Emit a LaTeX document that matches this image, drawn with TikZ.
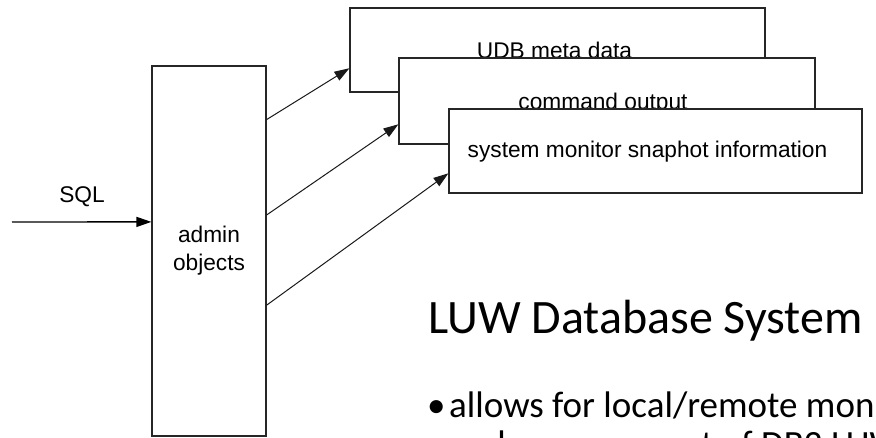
\documentclass[tikz,border=0pt]{standalone}
\usepackage{fontspec}
\setmainfont{Liberation Sans}
\newfontfamily\calibri{Carlito}
\usetikzlibrary{arrows.meta,calc}
\tikzset{
  boxnode/.style={draw=black!85, line width=1.2pt, fill=white, rectangle, inner sep=0pt},
  lbl/.style={font=\fontsize{22.7}{28}\selectfont, inner sep=0pt, text=black},
  conn/.style={draw=black!90, line width=1pt, -{Triangle[length=15pt,width=10pt]}},
  slide/.style={anchor=base west, inner sep=0pt, font=\calibri\fontsize{37}{40}\selectfont},
}
\begin{document}
\begin{tikzpicture}[x=1pt,y=-1pt]
\useasboundingbox (0,0) rectangle (876,437);
\clip (0,0) rectangle (876,437);
% stacked output boxes
\node[boxnode, minimum width=415pt, minimum height=84pt] (b1) at (557.5,50) {};
\node[lbl, anchor=base] (t1) at (554.5,58) {UDB meta data};
\node[boxnode, minimum width=416pt, minimum height=86pt] (b2) at (607,101) {};
\node[lbl, anchor=base] (t2) at (603,109) {command output};
\node[boxnode, minimum width=413pt, minimum height=84pt] (b3) at (655.5,151) {};
\node[lbl, anchor=base] (t3) at (647.5,157) {system monitor snaphot information};
% admin objects
\node[boxnode, minimum width=114pt, minimum height=370pt, lbl, draw=black!85, line width=1.2pt, align=center] (adm) at (209,251) {admin\\objects};
% SQL input
\coordinate (sqlin) at (12,222);
\node[lbl] (sql) at (82,197) {SQL};
\draw[conn, line width=1.4pt, draw=black] (sqlin) -- ($(adm.north west)!0.4216!(adm.south west)$);
% arrows to boxes
\draw[conn] ($(adm.north east)!0.146!(adm.south east)$) -- ($(b1.north west)!0.714!(b1.south west)$);
\draw[conn] ($(adm.north east)!0.403!(adm.south east)$) -- ($(b2.north west)!0.767!(b2.south west)$);
\draw[conn] ($(adm.north east)!0.646!(adm.south east)$) -- ($(b3.north west)!0.762!(b3.south west)$);
% slide text
\node[anchor=base west, inner sep=0pt, font=\calibri\fontsize{48}{56}\selectfont] (title) at (428,333) {LUW Database System};
\node[slide] (bul) at (427,417) {•};
\node[slide] (l1) at (449,417) {allows for local/remote monitoring};
\node[slide] (l2) at (449,456) {and management of DB2 LUW};
\end{tikzpicture}
\end{document}
